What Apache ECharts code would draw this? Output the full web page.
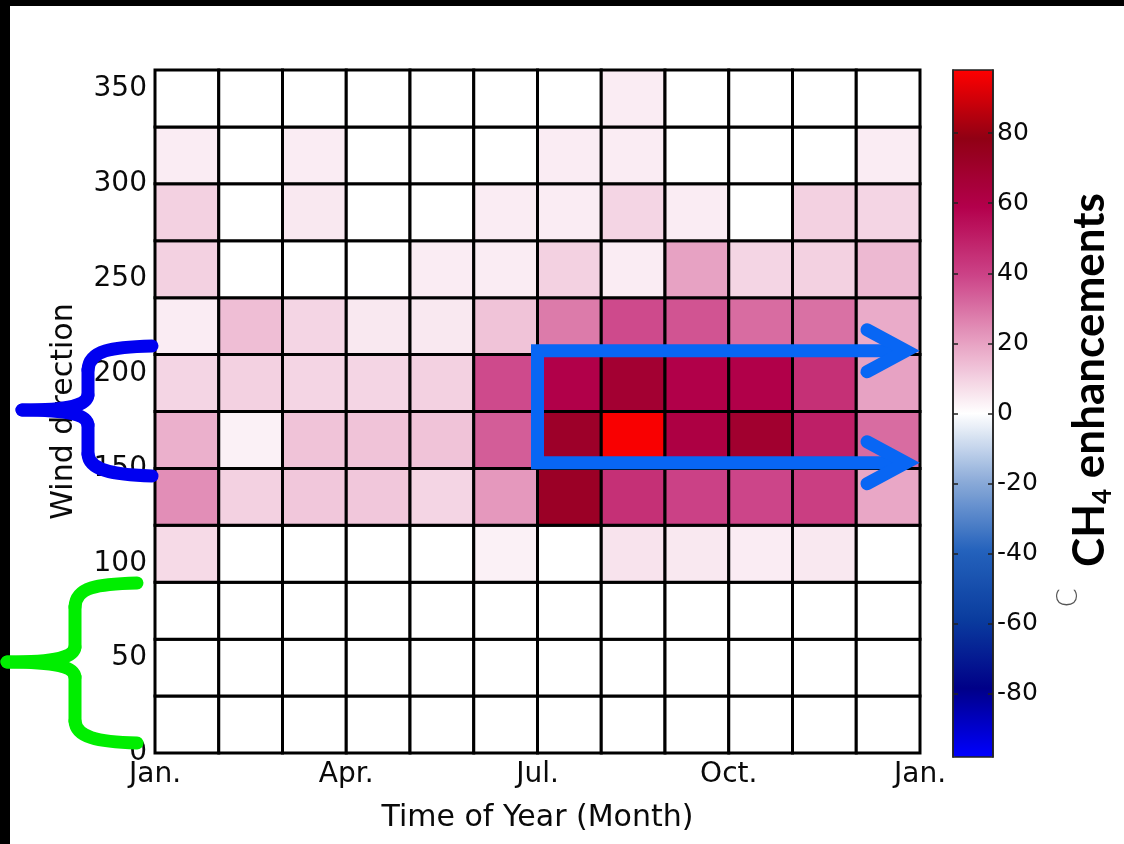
<!DOCTYPE html>
<html>
<head>
<meta charset="utf-8">
<script src="https://cdn.jsdelivr.net/npm/echarts@6/dist/echarts.min.js"></script>
<style>
  html, body { margin: 0; padding: 0; background: #fff; }
  #chart { width: 1124px; height: 844px; }
</style>
</head>
<body>
<div id="chart"></div>
<script>
// Months along the x axis: one cell per month
const monthNames = ['Jan', 'Feb', 'Mar', 'Apr', 'May', 'Jun', 'Jul', 'Aug', 'Sep', 'Oct', 'Nov', 'Dec'];
// Lower edge of each 30-degree wind direction bin
const directionBins = [0, 30, 60, 90, 120, 150, 180, 210, 240, 270, 300, 330];
const binWidth = 30;

// CH4 enhancement for each month, one list per wind direction bin
const dir000 = [0, 0, 0, 0, 0, 0, 0, 0, 0, 0, 0, 0];
const dir030 = [0, 0, 0, 0, 0, 0, 0, 0, 0, 0, 0, 0];
const dir060 = [0, 0, 0, 0, 0, 0, 0, 0, 0, 0, 0, 0];
const dir090 = [8, 0, 0, 0, 0, 3, 0, 6, 5, 4, 5, 0];
const dir120 = [24, 10, 12, 12, 9, 22, 72, 45, 40, 39, 41, 19];
const dir150 = [17, 3, 13, 13, 13, 34, 71, 97, 62, 69, 50, 31];
const dir180 = [9, 10, 9, 9, 10, 38, 60, 68, 60, 60, 45, 20];
const dir210 = [4, 14, 9, 5, 5, 13, 28, 38, 36, 31, 30, 18];
const dir240 = [10, 0, 0, 0, 4, 4, 10, 4, 20, 9, 10, 15];
const dir270 = [10, 0, 5, 0, 0, 4, 4, 9, 4, 0, 10, 9];
const dir300 = [4, 0, 4, 0, 0, 0, 4, 4, 0, 0, 0, 4];
const dir330 = [0, 0, 0, 0, 0, 0, 0, 4, 0, 0, 0, 0];
const binRows = [dir000, dir030, dir060, dir090, dir120, dir150, dir180, dir210, dir240, dir270, dir300, dir330];

// Axis tick labels
const xTickLabels = ['Jan.', 'Apr.', 'Jul.', 'Oct.', 'Jan.'];
const yTickValues = [0, 50, 100, 150, 200, 250, 300, 350];
const colorTickValues = [-80, -60, -40, -20, 0, 20, 40, 60, 80];
const colorRange = [-98, 98];

// Highlighted region (months 6-12, directions ~153-212)
const boxMonths = [6, 12];
const boxDirections = [153, 212];

const FONT = "'DejaVu Sans', 'Liberation Sans', sans-serif";
const INK = '#0a0a0a';

const cells = [];
binRows.forEach(function (row, r) {
  row.forEach(function (v, m) { cells.push([m, directionBins[r], v]); });
});

const chart = echarts.init(document.getElementById('chart'), null, { renderer: 'canvas' });

const colorbarAxis = function (side, showLabels) {
  return {
    gridIndex: 1, type: 'value', position: side,
    min: colorRange[0], max: colorRange[1], z: 10,
    axisLine: { show: true, lineStyle: { color: '#222', width: 1.5 } },
    axisTick: { show: true, inside: true, length: 5, customValues: colorTickValues,
                lineStyle: { color: '#222', width: 1.5 } },
    axisLabel: { show: showLabels, customValues: colorTickValues, margin: 4,
                 fontFamily: FONT, fontSize: 25, color: INK },
    splitLine: { show: false }
  };
};

const option = {
  backgroundColor: '#fff',
  animation: false,
  grid: [
    { left: 155, top: 70, width: 765, height: 683 },
    { left: 953, top: 70, width: 40, height: 687, show: true, borderColor: '#222', borderWidth: 1.5, z: 10 }
  ],
  xAxis: [
    {
      gridIndex: 0, type: 'value', min: 0, max: 12, interval: 3,
      axisLine: { show: false }, axisTick: { show: false }, splitLine: { show: false },
      axisLabel: { formatter: function (v) { return xTickLabels[Math.round(v / 3)]; },
                   fontFamily: FONT, fontSize: 28, color: INK, margin: 8 },
      name: 'Time of Year (Month)', nameLocation: 'middle', nameGap: 50,
      nameTextStyle: { fontFamily: FONT, fontSize: 30, color: INK }
    },
    { gridIndex: 1, type: 'value', min: 0, max: 1, show: false }
  ],
  yAxis: [
    {
      gridIndex: 0, type: 'value', min: 0, max: 360, interval: 50,
      axisLine: { show: false }, axisTick: { show: false }, splitLine: { show: false },
      axisLabel: { customValues: yTickValues,
                   fontFamily: FONT, fontSize: 28, color: INK, margin: 8 },
      name: 'Wind direction', nameLocation: 'middle', nameGap: 76,
      nameTextStyle: { fontFamily: FONT, fontSize: 30, color: INK }
    },
    colorbarAxis('left', false),
    colorbarAxis('right', true)
  ],
  visualMap: {
    type: 'continuous', min: colorRange[0], max: colorRange[1],
    seriesIndex: 0, dimension: 2, calculable: false,
    left: 953, top: 70, itemWidth: 40, itemHeight: 687, padding: 0,
    inRange: { color: ['#0000ff', '#000088', '#0a3c9e', '#2462bc', '#8aaad8', '#ffffff',
                       '#e8a4c4', '#cc4488', '#b3004c', '#900014', '#ff0000'] }
  },
  series: [{
    type: 'custom',
    xAxisIndex: 0, yAxisIndex: 0,
    data: cells,
    encode: { x: 0, y: 1 },
    renderItem: function (params, api) {
      const m = api.value(0), d = api.value(1);
      const p0 = api.coord([m, d + binWidth]);
      const p1 = api.coord([m + 1, d]);
      return {
        type: 'rect',
        shape: { x: p0[0], y: p0[1], width: p1[0] - p0[0], height: p1[1] - p0[1] },
        style: { fill: api.visual('color'), stroke: '#000', lineWidth: 3 }
      };
    }
  }]
};

chart.setOption(option);

// Annotations: black frame edges, braces, the arrow box and the colour bar title
const px = function (x, y) { return chart.convertToPixel({ gridIndex: 0 }, [x, y]); };
const TIP_INSET = 14;
const tl = px(boxMonths[0], boxDirections[1]);
const bl = px(boxMonths[0], boxDirections[0]);
const tr = px(boxMonths[1], boxDirections[1]); tr[0] -= TIP_INSET;
const br = px(boxMonths[1], boxDirections[0]); br[0] -= TIP_INSET;
const ARROW = '#0866f4';

const stroke = function (color) {
  return { stroke: color, lineWidth: 13, fill: null, lineCap: 'round', lineJoin: 'round' };
};
const curve = function (color, a, c1, c2, b) {
  return { type: 'bezierCurve', z: 120,
    shape: { x1: a[0], y1: a[1], cpx1: c1[0], cpy1: c1[1], cpx2: c2[0], cpy2: c2[1], x2: b[0], y2: b[1] },
    style: stroke(color) };
};
const seg = function (color, a, b) {
  return { type: 'line', z: 120, shape: { x1: a[0], y1: a[1], x2: b[0], y2: b[1] }, style: stroke(color) };
};
// Curly brace built from curves: top arm, stem, tip, stem, bottom arm
const brace = function (color, armX, stemX, tipX, yTop, yMid, yBot) {
  return [
    curve(color, [armX, yTop], [armX - 40, yTop + 1], [stemX + 1, yTop + 4], [stemX, yTop + 24]),
    seg(color, [stemX, yTop + 24], [stemX, yMid - 15]),
    curve(color, [stemX, yMid - 15], [stemX - 1, yMid - 5], [stemX - 18, yMid], [tipX, yMid]),
    curve(color, [tipX, yMid], [stemX - 18, yMid], [stemX - 1, yMid + 5], [stemX, yMid + 15]),
    seg(color, [stemX, yMid + 15], [stemX, yBot - 22]),
    curve(color, [stemX, yBot - 22], [stemX + 1, yBot - 6], [armX - 40, yBot - 1], [armX, yBot])
  ];
};
const head = function (tip) {
  return { type: 'polyline', z: 120,
    shape: { points: [[tip[0] - 39, tip[1] - 21], [tip[0], tip[1]], [tip[0] - 39, tip[1] + 21]] },
    style: { stroke: ARROW, lineWidth: 13, fill: null, lineCap: 'round', lineJoin: 'miter' } };
};

const elements = [
  { type: 'rect', z: 50, shape: { x: 0, y: 0, width: 1124, height: 6 }, style: { fill: '#000' } },
  { type: 'rect', z: 50, shape: { x: 0, y: 0, width: 10, height: 844 }, style: { fill: '#000' } }
]
  .concat(brace('#0000f0', 152, 88, 22, 346, 410, 476))
  .concat(brace('#00ee00', 137, 75, 7, 583, 662, 743))
  .concat([
    { type: 'polyline', z: 120,
      shape: { points: [[tr[0], tr[1]], [tl[0], tl[1]], [bl[0], bl[1]], [br[0], br[1]]] },
      style: { stroke: ARROW, lineWidth: 13, fill: null, lineJoin: 'miter', lineCap: 'butt' } },
    head(tr), head(br),
    { type: 'text', z: 120, x: 1090, y: 380, rotation: Math.PI / 2,
      style: {
        text: '{a|CH}{b|4}{a| enhancements}',
        align: 'center', verticalAlign: 'middle',
        rich: {
          a: { fontFamily: 'Lato, sans-serif', fontWeight: 'bold', fontSize: 44, fill: '#000', lineHeight: 52 },
          b: { fontFamily: 'Lato, sans-serif', fontWeight: 'bold', fontSize: 26, fill: '#000', verticalAlign: 'bottom', lineHeight: 34 }
        }
      } },
    { type: 'text', z: 120, x: 1070, y: 598, rotation: Math.PI / 2,
      style: { text: 'C', fontFamily: FONT, fontWeight: 200, fontSize: 28, fill: '#555',
               align: 'center', verticalAlign: 'middle' } }
  ]);

chart.setOption({ graphic: { elements: elements } });
</script>
</body>
</html>
